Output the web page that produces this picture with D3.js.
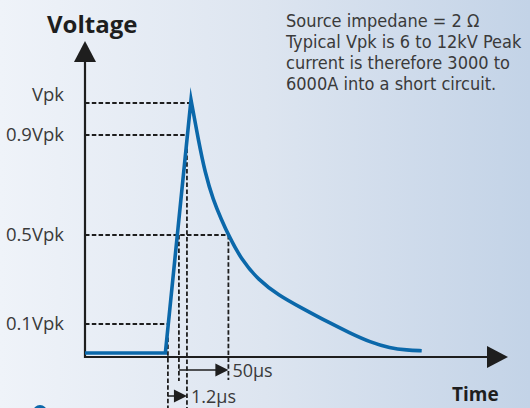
<!DOCTYPE html>
<html>
<head>
<meta charset="utf-8">
<script src="https://cdn.jsdelivr.net/npm/d3@7"></script>
<style>
  html, body { margin: 0; padding: 0; }
  body { width: 530px; height: 408px; overflow: hidden; }
  text { font-family: "Open Sans", "Noto Sans", sans-serif; fill: #3a3a3a; }
</style>
</head>
<body>
<script>
//surge waveform sketch, levels are fractions of Vpk, time in schematic units

//y levels and their labels
var levels = [0.1, 0.5, 0.9, 1];
var levelLabels = ["0.1Vpk", "0.5Vpk", "0.9Vpk", "Vpk"];

//rising part of the pulse (flat, rise, peak)
var riseT = [0, 19, 25.06];
var riseV = [0.012, 0.012, 1.01];

//decay tail after the peak
var decayT = [25.06, 26.8, 28.4, 30.3, 32.3, 33.9, 37.0, 41.0, 45.7, 51.2, 57.9, 62.6, 67.4, 72.1, 76.1, 79.6];
var decayV = [1.01, 0.88, 0.748, 0.64, 0.56, 0.5, 0.388, 0.298, 0.23, 0.172, 0.104, 0.073, 0.045, 0.027, 0.021, 0.019];

//where the level lines meet the curve
var t10 = 19.6, t50r = 22.2, t90 = 24.1, t50f = 33.9;

var noteLines = [
    "Source impedane = 2 \u03A9",
    "Typical Vpk is 6 to 12kV Peak",
    "current is therefore 3000 to",
    "6000A into a short circuit."
];

var width = 530, height = 408;

var svg = d3.select("body")
    .append("svg")
    .attr("width", width)
    .attr("height", height);

//background gradient
var defs = svg.append("defs");
var grad = defs.append("linearGradient")
    .attr("id", "bg")
    .attr("x1", "0").attr("y1", "0")
    .attr("x2", "1").attr("y2", "0");
grad.append("stop").attr("offset", "0%").attr("stop-color", "#eff3f9");
grad.append("stop").attr("offset", "50%").attr("stop-color", "#dde5f0");
grad.append("stop").attr("offset", "100%").attr("stop-color", "#c3d3e7");

svg.append("rect")
    .attr("width", width)
    .attr("height", height)
    .attr("fill", "url(#bg)");

//scales - y is schematic so it is piecewise
var x = d3.scaleLinear()
    .domain([0, 100])
    .range([85, 508]);

var y = d3.scaleLinear()
    .domain([0, 0.1, 0.5, 0.9, 1])
    .range([357, 324, 235, 135, 103]);

var ink = "#1e1e1e";

//dashed helper lines
var dash = svg.append("g")
    .attr("stroke", ink)
    .attr("stroke-width", 1.8)
    .attr("stroke-dasharray", "4.5,2.3")
    .attr("fill", "none");

var hEnds = [t10, t50f, t90 - 0.4, riseT[2]];
dash.selectAll(".hline")
    .data(levels)
    .enter()
    .append("line")
    .attr("class", "hline")
    .attr("x1", x(0))
    .attr("x2", function(d, i){ return x(hEnds[i]); })
    .attr("y1", function(d){ return y(d); })
    .attr("y2", function(d){ return y(d); });

var vLines = [
    {t: t10, v: 0.1, bottom: height},
    {t: t50r, v: 0.5, bottom: 381},
    {t: t90, v: 0.9, bottom: height},
    {t: t50f, v: 0.5, bottom: 380}
];
dash.selectAll(".vline")
    .data(vLines)
    .enter()
    .append("line")
    .attr("class", "vline")
    .attr("x1", function(d){ return x(d.t); })
    .attr("x2", function(d){ return x(d.t); })
    .attr("y1", function(d){ return y(d.v); })
    .attr("y2", function(d){ return d.bottom; });

//axes with arrow heads
var axes = svg.append("g");
axes.append("line")
    .attr("x1", x(0)).attr("x2", x(0))
    .attr("y1", 60).attr("y2", y(0) + 1)
    .attr("stroke", ink).attr("stroke-width", 2.2);
axes.append("path")
    .attr("d", d3.line()([[x(0), 41], [x(0) - 11, 62], [x(0) + 11, 62]]) + "Z")
    .attr("fill", ink);

axes.append("line")
    .attr("x1", x(0) - 1).attr("x2", 490)
    .attr("y1", y(0)).attr("y2", y(0))
    .attr("stroke", ink).attr("stroke-width", 2.2);
axes.append("path")
    .attr("d", d3.line()([[x(100), y(0)], [487, y(0) - 11], [487, y(0) + 11]]) + "Z")
    .attr("fill", ink);

//level labels
svg.selectAll(".ylab")
    .data(levels)
    .enter()
    .append("text")
    .attr("class", "ylab")
    .attr("x", 64)
    .attr("y", function(d){ return d === 1 ? y(d) - 8 : y(d); })
    .attr("dy", "0.35em")
    .attr("text-anchor", "end")
    .style("font-size", "18.5px")
    .text(function(d, i){ return levelLabels[i]; });

//the waveform: linear rise joined to a smoothed decay
var risePts = riseT.map(function(t, i){ return [x(t), y(riseV[i])]; });
var decayPts = decayT.map(function(t, i){ return [x(t), y(decayV[i])]; });
var riseD = d3.line()(risePts);
var decayD = d3.line().curve(d3.curveBasis)(decayPts);
decayD = decayD.replace(/^M[^A-Za-z]*/, "");

svg.append("path")
    .attr("d", riseD + decayD)
    .attr("fill", "none")
    .attr("stroke", "#0b68aa")
    .attr("stroke-width", 3.6)
    .attr("stroke-linejoin", "miter")
    .attr("stroke-miterlimit", 20);

//time span arrows
var spans = [
    {from: t50r, to: t50f, yy: 370, label: "50\u00B5s"},
    {from: t10, to: t90, yy: 396, label: "1.2\u00B5s"}
];
var sp = svg.selectAll(".span")
    .data(spans)
    .enter()
    .append("g")
    .attr("class", "span");
sp.append("line")
    .attr("x1", function(d){ return x(d.from); })
    .attr("x2", function(d){ return x(d.to) - 10; })
    .attr("y1", function(d){ return d.yy; })
    .attr("y2", function(d){ return d.yy; })
    .attr("stroke", ink)
    .attr("stroke-width", 1.5);
sp.append("path")
    .attr("d", function(d){
        var tx = x(d.to);
        return d3.line()([[tx, d.yy], [tx - 13, d.yy - 6.5], [tx - 13, d.yy + 6.5]]) + "Z";
    })
    .attr("fill", ink);
sp.append("text")
    .attr("x", function(d){ return x(d.to) + 4; })
    .attr("y", function(d){ return d.yy + 7; })
    .style("font-size", "18px")
    .text(function(d){ return d.label; });

//axis titles
svg.append("text")
    .attr("x", 47)
    .attr("y", 33)
    .style("font-size", "24px")
    .style("font-weight", "bold")
    .style("fill", ink)
    .text("Voltage");

svg.append("text")
    .attr("x", 452)
    .attr("y", 401)
    .style("font-size", "19px")
    .style("font-weight", "bold")
    .style("fill", ink)
    .text("Time");

//note in the top right - a font with tighter line metrics so lines 21px apart don't collide
svg.append("g")
    .selectAll("text")
    .data(noteLines)
    .enter()
    .append("text")
    .attr("x", 286)
    .attr("y", function(d, i){ return 27 + i * 21; })
    .style("font-family", "'DejaVu Sans Condensed', 'DejaVu Sans', sans-serif")
    .style("font-size", "18px")
    .text(function(d){ return d; });

//blue dot at the bottom edge
svg.append("circle")
    .attr("cx", 40)
    .attr("cy", 412)
    .attr("r", 7)
    .attr("fill", "#0b68aa");
</script>
</body>
</html>
